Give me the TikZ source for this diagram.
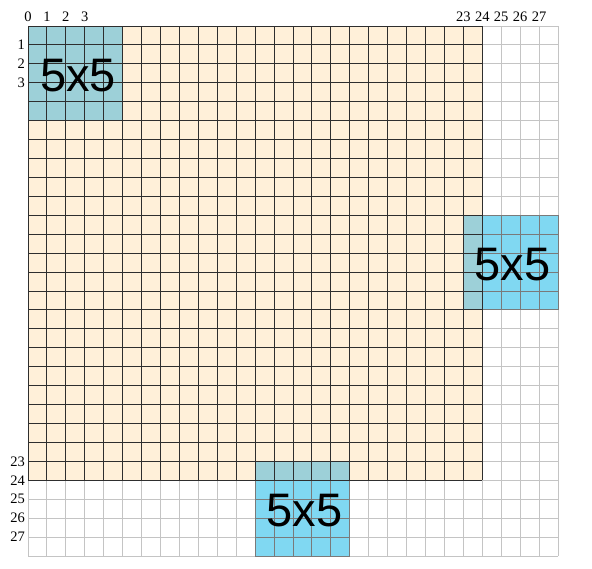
\documentclass[tikz,border=0pt]{standalone}
\usepackage{fontspec}
\setmainfont{Liberation Serif}
\newfontfamily\bigsans{Liberation Sans}
\definecolor{orangefill}{HTML}{FFF0D9}
\definecolor{bluefill}{HTML}{80D8F2}
\definecolor{overlapfill}{HTML}{9DD0D8}
\definecolor{lightline}{HTML}{C4C4C4}
\definecolor{midline}{HTML}{7A7A7A}
\definecolor{darkline}{HTML}{2E2E2E}
\tikzset{
  lightgrid/.style={draw=lightline, line width=0.9pt},
  midgrid/.style={draw=midline, line width=0.9pt},
  darkgrid/.style={draw=darkline, line width=1pt},
  numlabel/.style={font=\fontsize{14.5}{15}\selectfont, inner sep=0pt},
  biglabel/.style={font=\bigsans\fontsize{47}{47}\selectfont, inner sep=0pt},
}
% #1 style, #2 x0, #3 y0, #4 x1, #5 y1
\newcommand\cellgrid[5]{%
  \foreach \k in {#2,...,#4} \draw[#1] (\k,#3) -- (\k,#5);
  \foreach \k in {#3,...,#5} \draw[#1] (#2,\k) -- (#4,\k);
}
\begin{document}
\begin{tikzpicture}[x=1pt,y=-1pt]
\useasboundingbox (0,0) rectangle (592,568);
\begin{scope}[shift={(28pt,-26pt)}, x=18.9286pt, y=-18.9286pt]
  % fills
  \fill[white] (0,0) rectangle (28,28);
  \fill[orangefill] (0,0) rectangle (24,24);
  \fill[bluefill] (23,10) rectangle (28,15);
  \fill[bluefill] (12,23) rectangle (17,28);
  \fill[overlapfill] (0,0) rectangle (5,5);
  \fill[overlapfill] (23,10) rectangle (24,15);
  \fill[overlapfill] (12,23) rectangle (17,24);
  % grids
  \cellgrid{lightgrid}{0}{0}{28}{28}
  \cellgrid{midgrid}{23}{10}{28}{15}
  \cellgrid{midgrid}{12}{23}{17}{28}
  \cellgrid{darkgrid}{0}{0}{24}{24}
  % column labels
  \foreach \i in {0,1,2,3,23,24,25,26,27}
    \node[numlabel] (col\i) at (\i,-0.47) {\i};
  % row labels
  \foreach \j in {1,2,3,23,24,25,26,27}
    \node[numlabel, anchor=east] (row\j) at (-0.15,\j) {\j};
  % big labels
  \node[biglabel] (blockA) at (2.65,2.6) {5x5};
  \node[biglabel] (blockB) at (25.6,12.6) {5x5};
  \node[biglabel] (blockC) at (14.6,25.6) {5x5};
\end{scope}
\end{tikzpicture}
\end{document}
